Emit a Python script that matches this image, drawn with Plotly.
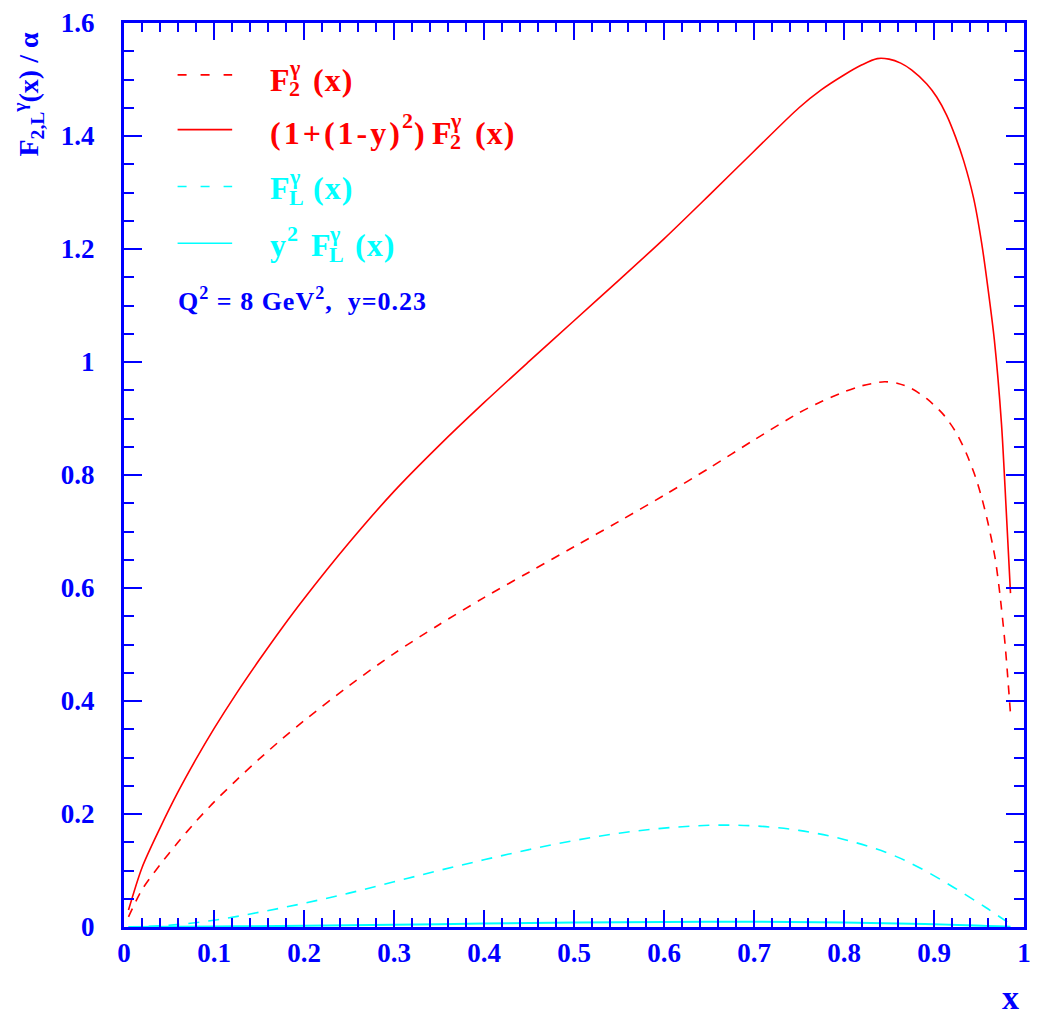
import plotly.graph_objects as go

# ---- data ----
x_f2 = [0.005, 0.02, 0.04, 0.06, 0.08, 0.1, 0.125, 0.15, 0.175, 0.2, 0.25, 0.3, 0.35, 0.4, 0.45,
        0.5, 0.55, 0.6, 0.65, 0.7, 0.75, 0.775, 0.8, 0.82, 0.845, 0.86, 0.875, 0.892, 0.911, 0.925,
        0.936, 0.946, 0.953, 0.960, 0.968, 0.973, 0.979, 0.985]
y_f2 = [0.018, 0.066, 0.110, 0.150, 0.187, 0.221, 0.260, 0.297, 0.332, 0.365, 0.427, 0.484, 0.535,
        0.583, 0.628, 0.673, 0.718, 0.764, 0.812, 0.862, 0.910, 0.930, 0.947, 0.958, 0.965, 0.962,
        0.953, 0.935, 0.906, 0.874, 0.838, 0.797, 0.760, 0.715, 0.652, 0.592, 0.50, 0.377]

x_f2w = [0.005, 0.02, 0.04, 0.06, 0.08, 0.1, 0.125, 0.15, 0.175, 0.2, 0.25, 0.3, 0.35, 0.4, 0.45,
         0.5, 0.55, 0.6, 0.65, 0.7, 0.75, 0.775, 0.8, 0.82, 0.837, 0.85, 0.863, 0.875, 0.892,
         0.903, 0.914, 0.924, 0.933, 0.944, 0.953, 0.960, 0.967, 0.975, 0.980, 0.985]
y_f2w = [0.03, 0.105, 0.175, 0.239, 0.297, 0.351, 0.4135, 0.472, 0.528, 0.581, 0.680, 0.771, 0.852,
         0.928, 1.001, 1.073, 1.145, 1.218, 1.295, 1.373, 1.450, 1.482, 1.508, 1.526, 1.537, 1.536,
         1.529, 1.517, 1.492, 1.469, 1.437, 1.398, 1.356, 1.290, 1.210, 1.130, 1.040, 0.890, 0.745,
         0.591]

x_fl = [0.005, 0.05, 0.1, 0.15, 0.2, 0.25, 0.3, 0.35, 0.4, 0.45, 0.5, 0.55, 0.6, 0.65, 0.7, 0.75,
        0.8, 0.85, 0.885, 0.922, 0.958, 0.984]
y_fl = [0.0, 0.003, 0.012, 0.026, 0.042, 0.060, 0.080, 0.100, 0.119, 0.137, 0.153, 0.166, 0.175,
        0.180, 0.179, 0.171, 0.155, 0.130, 0.104, 0.070, 0.034, 0.006]

x_flw = [0.005, 0.1, 0.2, 0.35, 0.5, 0.65, 0.8, 0.9, 0.985]
y_flw = [0.0, 0.001, 0.002, 0.005, 0.008, 0.0095, 0.008, 0.005, 0.0005]

x_ticks = [0, 0.1, 0.2, 0.3, 0.4, 0.5, 0.6, 0.7, 0.8, 0.9, 1]
y_ticks = [0, 0.2, 0.4, 0.6, 0.8, 1, 1.2, 1.4, 1.6]

RED = "#ff0000"
CYAN = "#00ffff"
BLUE = "#0000ff"
FONT = "Liberation Serif"

fig = go.Figure()
fig.add_trace(go.Scatter(x=x_f2, y=y_f2, mode="lines",
                         line=dict(color=RED, width=1.6, dash="9px,8px", shape="spline", smoothing=0.8)))
fig.add_trace(go.Scatter(x=x_f2w, y=y_f2w, mode="lines",
                         line=dict(color=RED, width=1.6, shape="spline", smoothing=0.8)))
fig.add_trace(go.Scatter(x=x_fl, y=y_fl, mode="lines",
                         line=dict(color=CYAN, width=1.6, dash="11px,9px", shape="spline", smoothing=1)))
fig.add_trace(go.Scatter(x=x_flw, y=y_flw, mode="lines",
                         line=dict(color=CYAN, width=2, shape="spline", smoothing=1)))

axis_common = dict(showgrid=False, zeroline=False, showline=True, linecolor=BLUE, linewidth=3,
                   mirror="allticks", ticks="inside", tickcolor=BLUE, tickwidth=2,
                   tickfont=dict(family=FONT, size=27, color=BLUE, weight="bold"))
fig.update_xaxes(range=[0, 1], tickvals=x_ticks, ticklen=17, ticklabelstandoff=0,
                 minor=dict(dtick=0.02, ticklen=9, ticks="inside", tickcolor=BLUE, tickwidth=2),
                 **axis_common)
fig.update_yaxes(range=[0, 1.6], tickvals=y_ticks, ticklen=18, ticklabelstandoff=21,
                 minor=dict(dtick=0.05, ticklen=10, ticks="inside", tickcolor=BLUE, tickwidth=2),
                 **axis_common)

W, H = 1039, 1016
L, R, T, B = 124, 8, 20, 89
pw, ph = W - L - R, H - T - B


def px(xp):
    return (xp - L) / pw


def py(yp):
    return (H - B - yp) / ph


shapes = []
annots = []


def txt(xp, yp, s, col, size, spacing=None):
    body = s if spacing is None else f'<span style="letter-spacing:{spacing}px">{s}</span>'
    annots.append(dict(xref="paper", yref="paper", x=px(xp), y=py(yp), xanchor="left",
                       yanchor="middle", text=f"<b>{body}</b>", showarrow=False,
                       font=dict(family=FONT, size=size, color=col)))


MAIN, SMALL = 32, 22
OFF_SUB, OFF_SUP = 9, -12
# legend sample lines
legend_lines = [(72, RED, "dash"), (127, RED, "solid"), (184, CYAN, "dash"), (241, CYAN, "solid")]
for yp, col, dash in legend_lines:
    shapes.append(dict(type="line", xref="paper", yref="paper", x0=px(178), x1=px(233),
                       y0=py(yp), y1=py(yp),
                       line=dict(color=col, width=1.6, dash="9px,14px" if dash == "dash" else "solid")))

# row 1: F2^gamma (x)
r = 77
txt(269, r, "F", RED, MAIN); txt(288, r + OFF_SUB, "2", RED, SMALL); txt(288, r + OFF_SUP, "γ", RED, SMALL)
txt(312, r, "(x)", RED, MAIN, 1)
# row 2: (1+(1-y)^2) F2^gamma (x)
r = 130
txt(269, r, "(1+(1-y)", RED, MAIN, 3); txt(402, r + OFF_SUP, "2", RED, SMALL); txt(414, r, ")", RED, MAIN)
txt(432, r, "F", RED, MAIN); txt(451, r + OFF_SUB, "2", RED, SMALL); txt(451, r + OFF_SUP, "γ", RED, SMALL)
txt(476, r, "(x)", RED, MAIN, 1)
# row 3: FL^gamma (x)
r = 186
txt(269, r, "F", CYAN, MAIN); txt(288, r + OFF_SUB, "L", CYAN, SMALL); txt(288, r + OFF_SUP, "γ", CYAN, SMALL)
txt(312, r, "(x)", CYAN, MAIN, 1)
# row 4: y^2 FL^gamma (x)
r = 243
txt(269, r, "y", CYAN, MAIN); txt(286, r + OFF_SUP, "2", CYAN, SMALL)
txt(310, r, "F", CYAN, MAIN); txt(329, r + OFF_SUB, "L", CYAN, SMALL); txt(329, r + OFF_SUP, "γ", CYAN, SMALL)
txt(355, r, "(x)", CYAN, MAIN, 1)

annots.append(dict(xref="paper", yref="paper", x=px(176), y=py(297), xanchor="left", yanchor="middle",
                   text='<b><span style="letter-spacing:1px">Q<sup>2</sup> = 8 GeV<sup>2</sup>,  y=0.23</span></b>',
                   showarrow=False, font=dict(family=FONT, size=26, color=BLUE)))
annots.append(dict(xref="paper", yref="paper", x=px(1017), y=py(998), xanchor="center", yanchor="middle",
                   text="<b>x</b>", showarrow=False, font=dict(family=FONT, size=34, color=BLUE)))
annots.append(dict(xref="paper", yref="paper", x=px(28), y=py(92), xanchor="center", yanchor="middle",
                   text="<b>F<sub>2,L</sub><sup>γ</sup>(x) / α</b>", textangle=-90, showarrow=False,
                   font=dict(family=FONT, size=28, color=BLUE)))

fig.update_layout(width=W, height=H, margin=dict(l=L, r=R, t=T, b=B),
                  paper_bgcolor="white", plot_bgcolor="white", showlegend=False,
                  shapes=shapes, annotations=annots)

fig.write_html("out.html")
